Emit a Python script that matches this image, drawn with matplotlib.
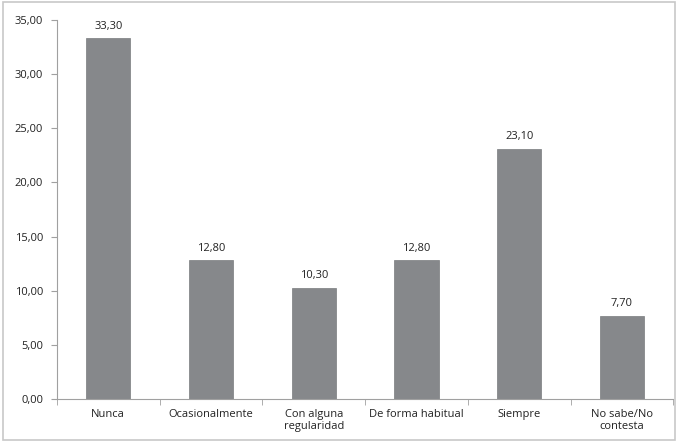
import matplotlib
matplotlib.use("Agg")
import matplotlib.pyplot as plt
from matplotlib.patches import Rectangle

categories = ["Nunca", "Ocasionalmente", "Con alguna\nregularidad", "De forma habitual", "Siempre", "No sabe/No\ncontesta"]
values = [33.30, 12.80, 10.30, 12.80, 23.10, 7.70]
yticks = [0, 5, 10, 15, 20, 25, 30, 35]

def fmt(v):
    return f"{v:.2f}".replace(".", ",")

plt.rcParams['font.family'] = ['Open Sans', 'DejaVu Sans']
fig = plt.figure(figsize=(6.78, 4.42), dpi=100)
fig.patches.append(Rectangle((0.004, 0.004), 0.992, 0.992, transform=fig.transFigure,
                             fill=False, edgecolor="#c8c8c8", linewidth=1.2))
ax = fig.add_axes([0.084, 0.097, 0.909, 0.858])
x = list(range(len(categories)))
ax.bar(x, values, width=0.43, color="#86888b", edgecolor="#7a7c7f", linewidth=0.5)
for xi, v in zip(x, values):
    ax.text(xi, v + 0.6, fmt(v), ha="center", va="bottom", fontsize=8, color="#222222")
ax.set_xlim(-0.5, len(categories) - 0.5)
ax.set_ylim(0, 35)
ax.set_yticks(yticks)
ax.set_yticklabels([fmt(t) for t in yticks], fontsize=8, color="#222222")
ax.set_xticks(x)
ax.set_xticklabels(categories, fontsize=8, color="#222222")
ax.tick_params(axis="x", length=0, pad=7)
ax.set_xticks([i - 0.5 for i in range(len(categories) + 1)], minor=True)
ax.tick_params(axis="x", which="minor", length=4, color="#a0a0a0", direction="out")
ax.tick_params(axis="y", length=4, color="#a0a0a0", direction="out", pad=6)
for s in ["top", "right"]:
    ax.spines[s].set_visible(False)
for s in ["left", "bottom"]:
    ax.spines[s].set_color("#a0a0a0")
    ax.spines[s].set_linewidth(0.8)
fig.savefig("out.png", dpi=100)
